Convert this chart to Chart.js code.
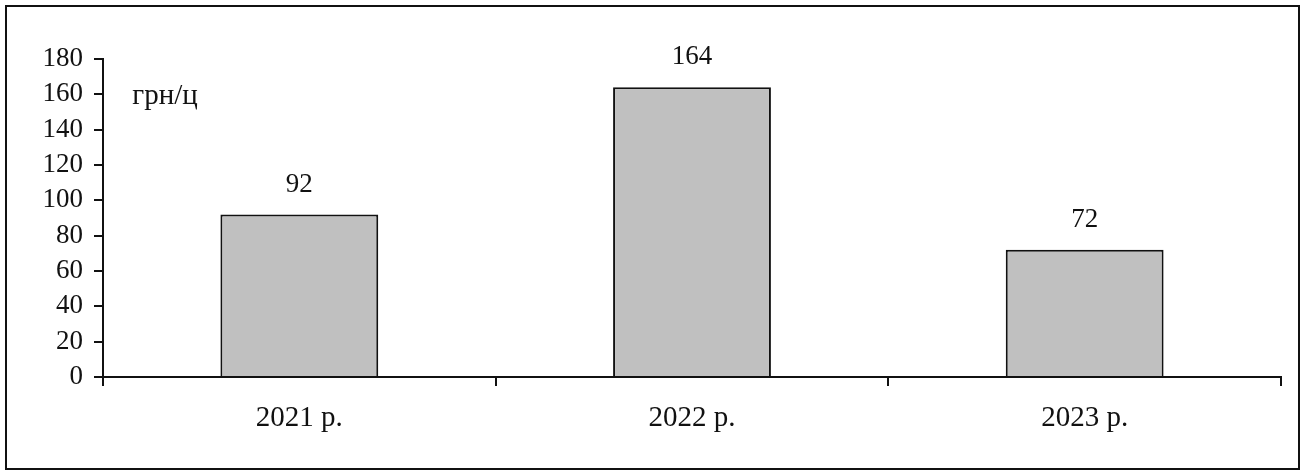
<!DOCTYPE html>
<html>
<head>
<meta charset="utf-8">
<script src="https://cdn.jsdelivr.net/npm/chart.js@4"></script>
<style>
  body { margin: 0; background: #fff; }
  #box { position: absolute; left: 5px; top: 5px; width: 1291px; height: 461px; border: 2px solid #111; }
</style>
</head>
<body>
<div id="box"><canvas id="myChart" width="1291" height="461"></canvas></div>
<script>
// Chart data
var years = ['2021 р.', '2022 р.', '2023 р.'];
var prices = [92, 164, 72];
var yTicks = [0, 20, 40, 60, 80, 100, 120, 140, 160, 180];
var unitLabel = 'грн/ц';

var serif = '"Liberation Serif", "Times New Roman", serif';

// Draws values above bars and the unit label
var labelsPlugin = {
    id: 'labels',
    afterDatasetsDraw: function(chart) {
        var ctx = chart.ctx;
        var meta = chart.getDatasetMeta(0);
        ctx.save();
        ctx.fillStyle = '#111';
        ctx.textAlign = 'center';
        ctx.textBaseline = 'middle';
        ctx.font = '27px ' + serif;
        meta.data.forEach(function(bar, i) {
            ctx.fillText(prices[i], bar.x, bar.y - 30);
        });
        ctx.font = '29px ' + serif;
        ctx.fillText(unitLabel, chart.chartArea.left + 62, chart.scales.y.getPixelForValue(160) + 2);
        ctx.restore();
    }
};

var ctx = document.getElementById('myChart').getContext('2d');
var myChart = new Chart(ctx, {
    type: 'bar',
    data: {
        labels: years,
        datasets: [{
            data: prices,
            backgroundColor: '#c0c0c0',
            borderColor: '#111',
            borderWidth: 2,
            barPercentage: 0.402,
            categoryPercentage: 1
        }]
    },
    options: {
        responsive: false,
        animation: false,
        layout: { padding: { left: 0, top: 52, right: 17, bottom: 0 } },
        plugins: { legend: { display: false }, tooltip: { enabled: false } },
        scales: {
            x: {
                afterFit: function(scale) { scale.height = 91; },
                grid: { display: true, drawOnChartArea: false, drawTicks: true, tickLength: 9, color: '#111', lineWidth: 2 },
                border: { display: true, color: '#111', width: 2 },
                ticks: { color: '#111', font: { family: serif, size: 29 }, padding: 15 }
            },
            y: {
                min: 0,
                max: 180,
                afterFit: function(scale) { scale.width = 96; },
                afterBuildTicks: function(scale) {
                    scale.ticks = yTicks.map(function(v) { return { value: v }; });
                },
                grid: { display: true, drawOnChartArea: false, drawTicks: true, tickLength: 9, color: '#111', lineWidth: 2 },
                border: { display: true, color: '#111', width: 2 },
                ticks: { color: '#111', font: { family: serif, size: 27 }, padding: 11, autoSkip: false }
            }
        }
    },
    plugins: [labelsPlugin]
});
</script>
</body>
</html>
